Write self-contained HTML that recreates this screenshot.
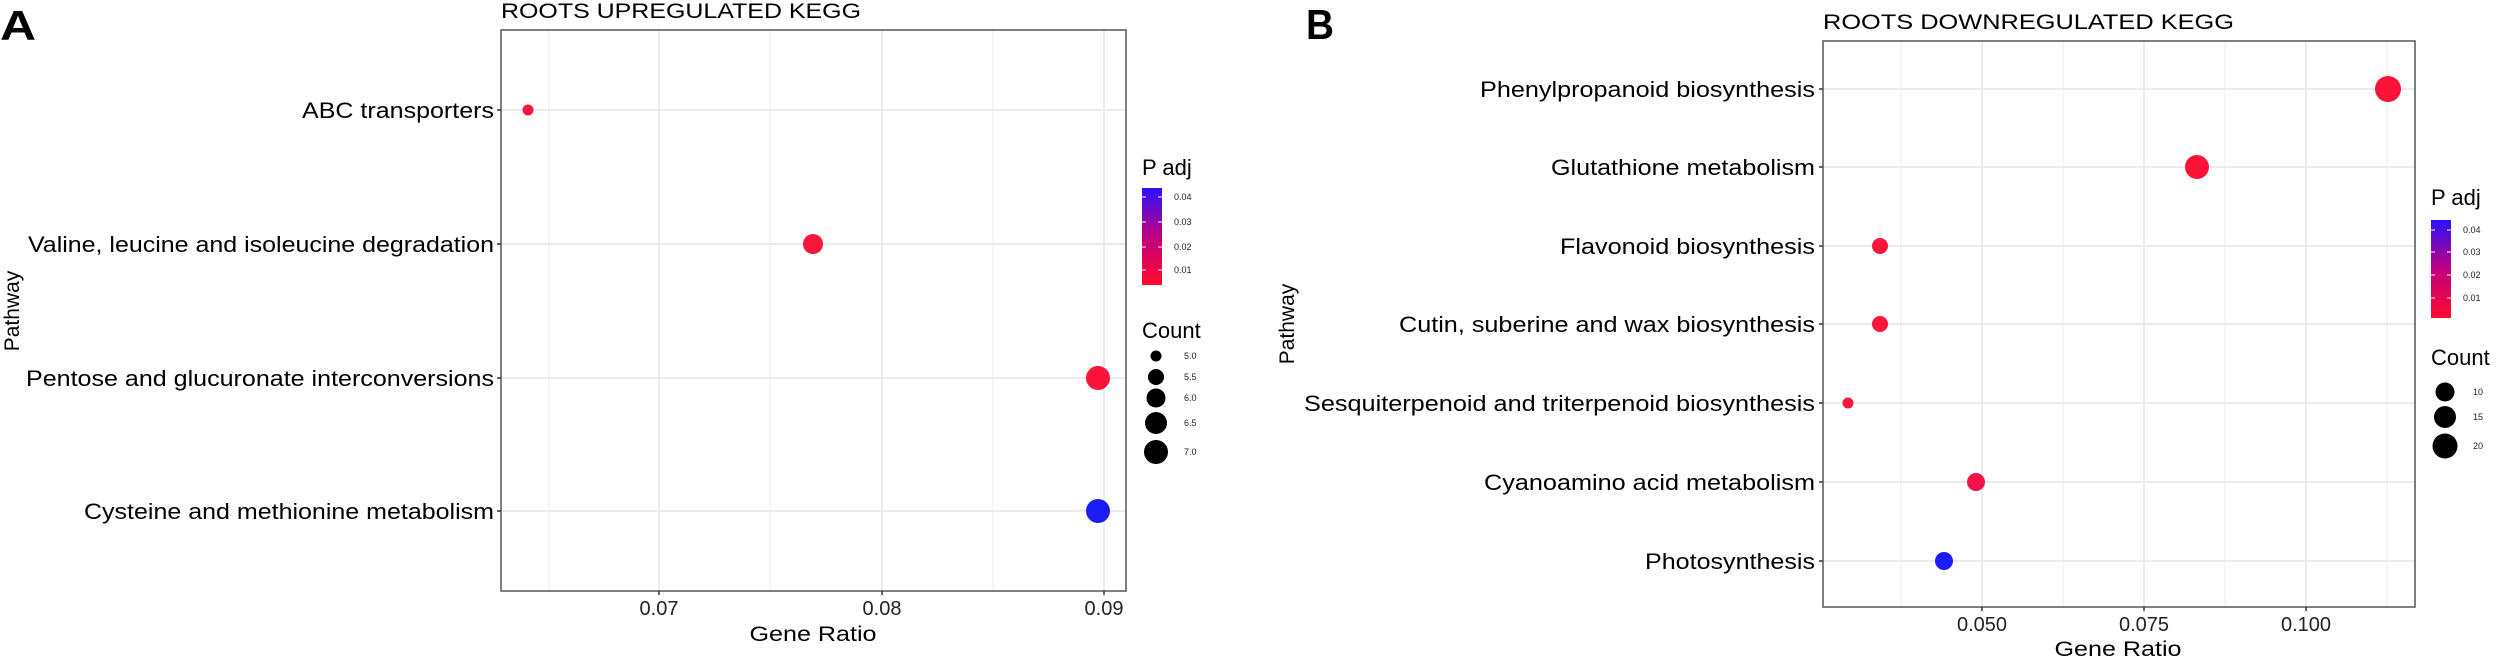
<!DOCTYPE html>
<html><head><meta charset="utf-8"><style>
html,body{margin:0;padding:0;background:#fff;}
svg{display:block;font-family:"Liberation Sans",Arial,sans-serif;}
</style></head><body>
<svg width="2500" height="658" viewBox="0 0 2500 658" xmlns="http://www.w3.org/2000/svg">
<defs>
<linearGradient id="g1" x1="0" y1="1" x2="0" y2="0">
<stop offset="0" stop-color="#ff0a2e"/><stop offset="0.5" stop-color="#c0007e"/><stop offset="1" stop-color="#2a10ff"/>
</linearGradient>
</defs>
<!-- Panel A -->
<text x="0" y="40" font-size="42" font-weight="bold" textLength="36" lengthAdjust="spacingAndGlyphs">A</text>
<text x="501" y="18" font-size="21" textLength="360" lengthAdjust="spacingAndGlyphs">ROOTS UPREGULATED KEGG</text>
<g stroke="#ebebeb" stroke-width="2">
<line x1="549" y1="30" x2="549" y2="591" stroke-width="1"/><line x1="770" y1="30" x2="770" y2="591" stroke-width="1"/><line x1="993" y1="30" x2="993" y2="591" stroke-width="1"/>
<line x1="659" y1="30" x2="659" y2="591"/><line x1="882" y1="30" x2="882" y2="591"/><line x1="1104" y1="30" x2="1104" y2="591"/>
<line x1="501" y1="110" x2="1126" y2="110"/><line x1="501" y1="244" x2="1126" y2="244"/><line x1="501" y1="378" x2="1126" y2="378"/><line x1="501" y1="511" x2="1126" y2="511"/>
</g>
<rect x="501" y="30" width="625" height="561" fill="none" stroke="#555" stroke-width="1.5"/>
<g stroke="#333" stroke-width="1.5">
<line x1="497" y1="110" x2="501" y2="110"/><line x1="497" y1="244" x2="501" y2="244"/><line x1="497" y1="378" x2="501" y2="378"/><line x1="497" y1="511" x2="501" y2="511"/>
<line x1="659" y1="591" x2="659" y2="595"/><line x1="882" y1="591" x2="882" y2="595"/><line x1="1104" y1="591" x2="1104" y2="595"/>
</g>
<g font-size="22" text-anchor="end">
<text x="494" y="118" textLength="192" lengthAdjust="spacingAndGlyphs">ABC transporters</text>
<text x="494" y="252" textLength="466" lengthAdjust="spacingAndGlyphs">Valine, leucine and isoleucine degradation</text>
<text x="494" y="386" textLength="468" lengthAdjust="spacingAndGlyphs">Pentose and glucuronate interconversions</text>
<text x="494" y="519" textLength="410" lengthAdjust="spacingAndGlyphs">Cysteine and methionine metabolism</text>
</g>
<g font-size="20" text-anchor="middle" fill="#222">
<text x="659" y="615">0.07</text><text x="882" y="615">0.08</text><text x="1104" y="615">0.09</text>
</g>
<text x="813" y="641" font-size="21" text-anchor="middle" textLength="127" lengthAdjust="spacingAndGlyphs">Gene Ratio</text>
<text transform="translate(19,311) rotate(-90)" font-size="21" text-anchor="middle">Pathway</text>
<circle cx="528" cy="110" r="5.5" fill="#f8173a"/>
<circle cx="813" cy="244" r="10" fill="#f8173a"/>
<circle cx="1098" cy="378" r="12" fill="#fb1438"/>
<circle cx="1098" cy="511" r="12" fill="#1b1cf7"/>
<text x="1142" y="175" font-size="22">P adj</text>
<rect x="1142" y="188" width="20" height="97" fill="url(#g1)"/>
<g stroke="#fff" stroke-width="1"><line x1="1142" y1="197" x2="1146" y2="197"/><line x1="1158" y1="197" x2="1162" y2="197"/><line x1="1142" y1="222" x2="1146" y2="222"/><line x1="1158" y1="222" x2="1162" y2="222"/><line x1="1142" y1="247" x2="1146" y2="247"/><line x1="1158" y1="247" x2="1162" y2="247"/><line x1="1142" y1="270" x2="1146" y2="270"/><line x1="1158" y1="270" x2="1162" y2="270"/></g>
<g font-size="9" fill="#222"><text x="1174" y="200">0.04</text><text x="1174" y="225">0.03</text><text x="1174" y="250">0.02</text><text x="1174" y="273">0.01</text></g>
<text x="1142" y="338" font-size="22">Count</text>
<circle cx="1156" cy="356" r="5.5"/><circle cx="1156" cy="377" r="8"/><circle cx="1156" cy="398" r="9.5"/><circle cx="1156" cy="423" r="11"/><circle cx="1156" cy="452" r="12"/>
<g font-size="9" fill="#222"><text x="1184" y="359">5.0</text><text x="1184" y="380">5.5</text><text x="1184" y="401">6.0</text><text x="1184" y="426">6.5</text><text x="1184" y="455">7.0</text></g>

<!-- Panel B -->
<text x="1306" y="39" font-size="42" font-weight="bold" textLength="28" lengthAdjust="spacingAndGlyphs">B</text>
<text x="1823" y="29" font-size="21" textLength="411" lengthAdjust="spacingAndGlyphs">ROOTS DOWNREGULATED KEGG</text>
<g stroke="#ebebeb" stroke-width="2">
<line x1="1901" y1="41" x2="1901" y2="607" stroke-width="1"/><line x1="2063" y1="41" x2="2063" y2="607" stroke-width="1"/><line x1="2225" y1="41" x2="2225" y2="607" stroke-width="1"/><line x1="2387" y1="41" x2="2387" y2="607" stroke-width="1"/>
<line x1="1982" y1="41" x2="1982" y2="607"/><line x1="2144" y1="41" x2="2144" y2="607"/><line x1="2306" y1="41" x2="2306" y2="607"/>
<line x1="1823" y1="89" x2="2415" y2="89"/><line x1="1823" y1="167" x2="2415" y2="167"/><line x1="1823" y1="246" x2="2415" y2="246"/><line x1="1823" y1="324" x2="2415" y2="324"/><line x1="1823" y1="403" x2="2415" y2="403"/><line x1="1823" y1="482" x2="2415" y2="482"/><line x1="1823" y1="561" x2="2415" y2="561"/>
</g>
<rect x="1823" y="41" width="592" height="566" fill="none" stroke="#555" stroke-width="1.5"/>
<g stroke="#333" stroke-width="1.5">
<line x1="1819" y1="89" x2="1823" y2="89"/><line x1="1819" y1="167" x2="1823" y2="167"/><line x1="1819" y1="246" x2="1823" y2="246"/><line x1="1819" y1="324" x2="1823" y2="324"/><line x1="1819" y1="403" x2="1823" y2="403"/><line x1="1819" y1="482" x2="1823" y2="482"/><line x1="1819" y1="561" x2="1823" y2="561"/>
<line x1="1982" y1="607" x2="1982" y2="611"/><line x1="2144" y1="607" x2="2144" y2="611"/><line x1="2306" y1="607" x2="2306" y2="611"/>
</g>
<g font-size="22" text-anchor="end">
<text x="1815" y="97" textLength="335" lengthAdjust="spacingAndGlyphs">Phenylpropanoid biosynthesis</text>
<text x="1815" y="175" textLength="264" lengthAdjust="spacingAndGlyphs">Glutathione metabolism</text>
<text x="1815" y="254" textLength="255" lengthAdjust="spacingAndGlyphs">Flavonoid biosynthesis</text>
<text x="1815" y="332" textLength="416" lengthAdjust="spacingAndGlyphs">Cutin, suberine and wax biosynthesis</text>
<text x="1815" y="411" textLength="511" lengthAdjust="spacingAndGlyphs">Sesquiterpenoid and triterpenoid biosynthesis</text>
<text x="1815" y="490" textLength="331" lengthAdjust="spacingAndGlyphs">Cyanoamino acid metabolism</text>
<text x="1815" y="569" textLength="170" lengthAdjust="spacingAndGlyphs">Photosynthesis</text>
</g>
<g font-size="20" text-anchor="middle" fill="#222">
<text x="1982" y="631">0.050</text><text x="2144" y="631">0.075</text><text x="2306" y="631">0.100</text>
</g>
<text x="2118" y="656" font-size="21" text-anchor="middle" textLength="127" lengthAdjust="spacingAndGlyphs">Gene Ratio</text>
<text transform="translate(1294,324) rotate(-90)" font-size="21" text-anchor="middle">Pathway</text>
<circle cx="2388" cy="89" r="13" fill="#fb1438"/>
<circle cx="2197" cy="167" r="12" fill="#fb1438"/>
<circle cx="1880" cy="246" r="8" fill="#f8173a"/>
<circle cx="1880" cy="324" r="8" fill="#f8173a"/>
<circle cx="1848" cy="403" r="5.5" fill="#f8173a"/>
<circle cx="1976" cy="482" r="9" fill="#f0144a"/>
<circle cx="1944" cy="561" r="9" fill="#1b1cf7"/>
<text x="2431" y="205" font-size="22">P adj</text>
<rect x="2431" y="220" width="20" height="98" fill="url(#g1)"/>
<g stroke="#fff" stroke-width="1"><line x1="2431" y1="230" x2="2435" y2="230"/><line x1="2447" y1="230" x2="2451" y2="230"/><line x1="2431" y1="252" x2="2435" y2="252"/><line x1="2447" y1="252" x2="2451" y2="252"/><line x1="2431" y1="275" x2="2435" y2="275"/><line x1="2447" y1="275" x2="2451" y2="275"/><line x1="2431" y1="298" x2="2435" y2="298"/><line x1="2447" y1="298" x2="2451" y2="298"/></g>
<g font-size="9" fill="#222"><text x="2463" y="233">0.04</text><text x="2463" y="255">0.03</text><text x="2463" y="278">0.02</text><text x="2463" y="301">0.01</text></g>
<text x="2431" y="365" font-size="22">Count</text>
<circle cx="2445" cy="392" r="9.5"/><circle cx="2445" cy="417" r="11"/><circle cx="2445" cy="446" r="12.5"/>
<g font-size="9" fill="#222"><text x="2473" y="395">10</text><text x="2473" y="420">15</text><text x="2473" y="449">20</text></g>
</svg>
</body></html>
